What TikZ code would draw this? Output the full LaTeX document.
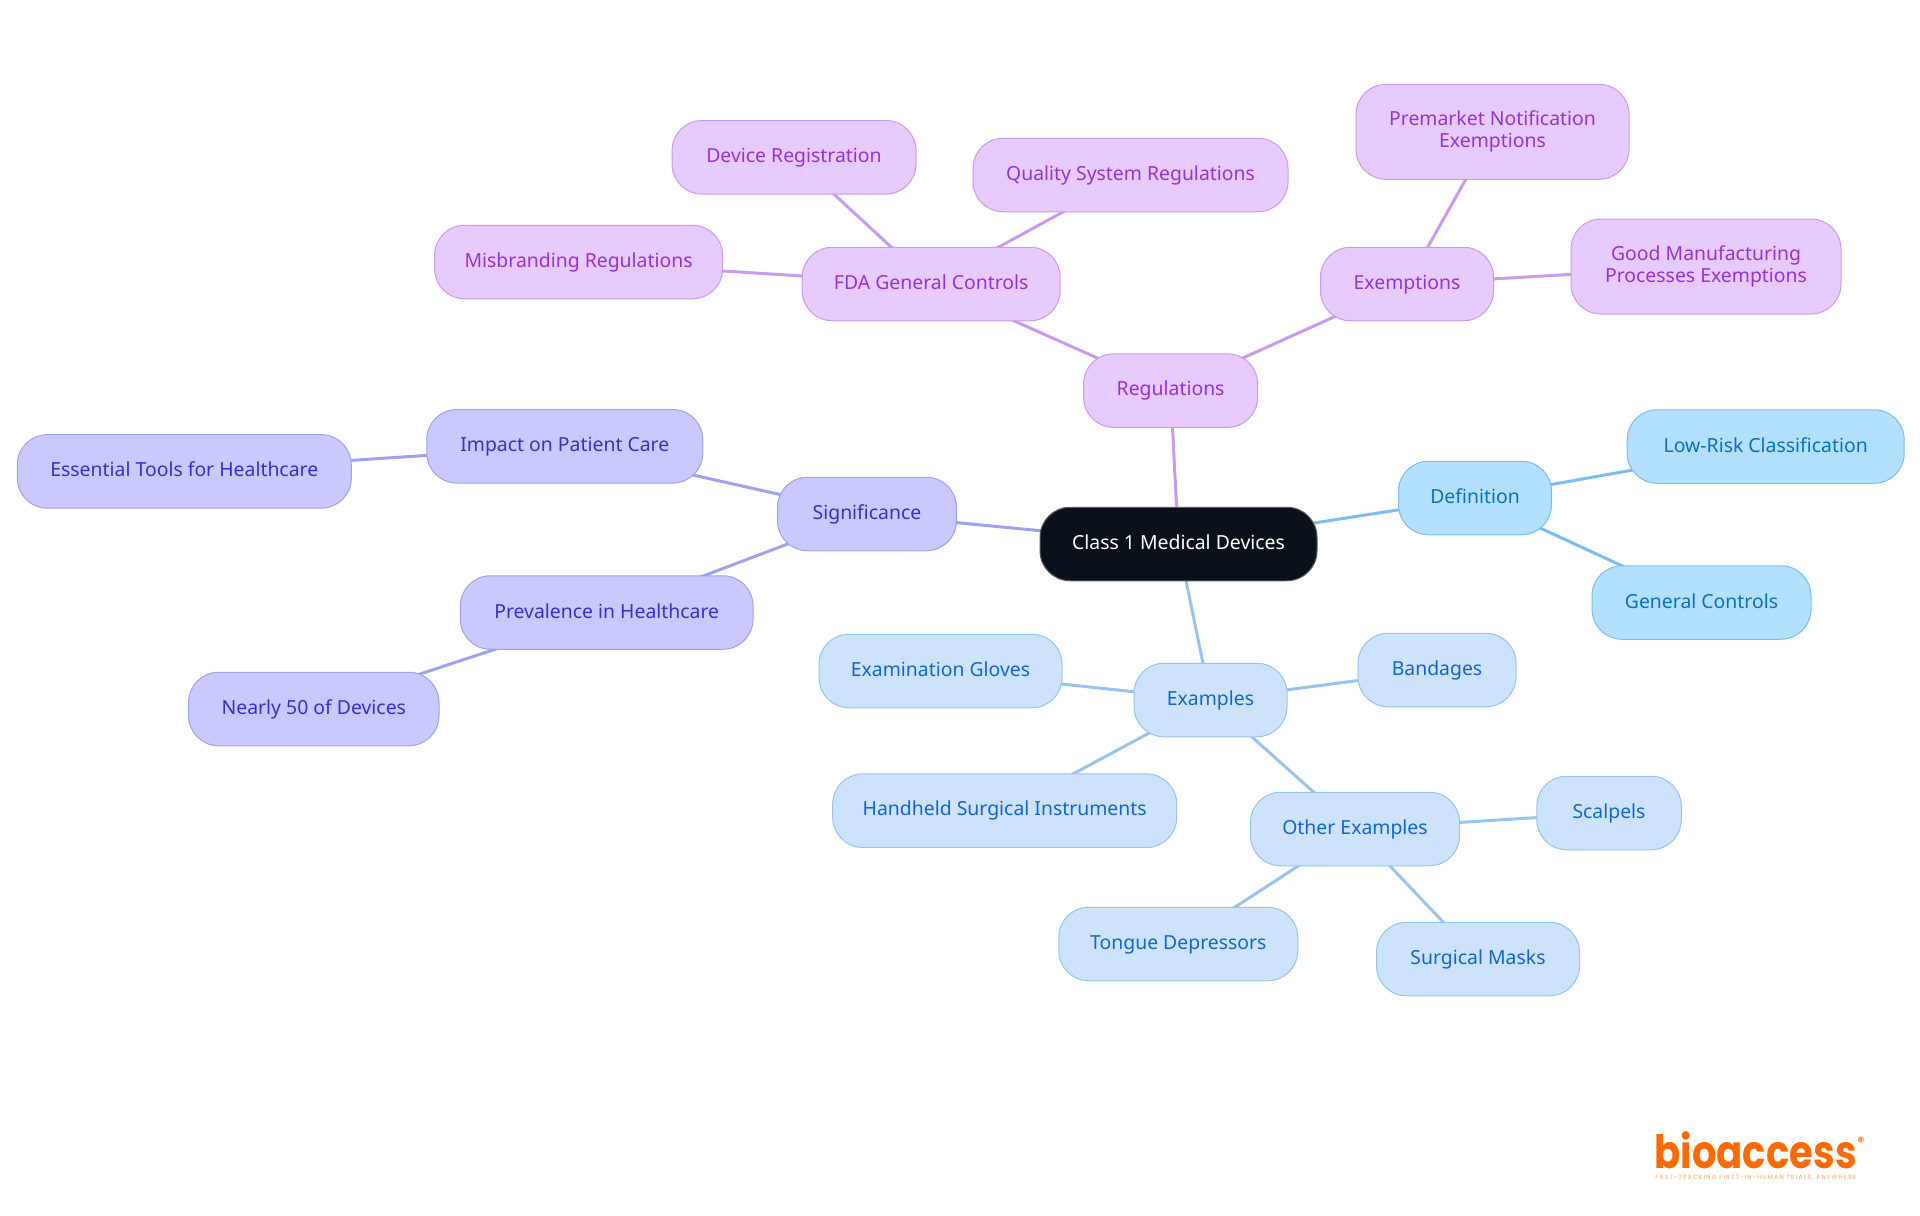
\documentclass[tikz,border=0pt]{standalone}
\usepackage{fontspec}
\setmainfont{Noto Sans}
\newfontfamily\logofont{Poppins}
\newfontfamily\tagfont[LetterSpace=20]{Poppins}
\usetikzlibrary{backgrounds}
\definecolor{rootfill}{HTML}{0B111A}
\definecolor{rootline}{HTML}{5A5E64}
\definecolor{purfill}{HTML}{E8CBFE}\definecolor{purline}{HTML}{C99BF0}\definecolor{purtext}{HTML}{9333D6}
\definecolor{skyfill}{HTML}{B3E0FF}\definecolor{skyline}{HTML}{7ABDF2}\definecolor{skytext}{HTML}{0B6FBA}
\definecolor{blufill}{HTML}{CDE3FC}\definecolor{bluline}{HTML}{99C3EF}\definecolor{blutext}{HTML}{1565C8}
\definecolor{indfill}{HTML}{C9C9FF}\definecolor{indline}{HTML}{A0A0F0}\definecolor{indtext}{HTML}{3730C8}
\definecolor{logoorange}{HTML}{FF6A00}
\newcommand{\tst}{\rule[-2pt]{0pt}{9.5pt}}
\tikzset{
  box/.style={rounded corners=15pt,line width=.5pt,inner sep=0pt,minimum height=36.75pt,align=center,
     font=\fontsize{9.7}{11}\selectfont},
  tall/.style={minimum height=47.5pt},
  rootbox/.style={box,fill=rootfill,draw=rootline,text=white},
  purbox/.style={box,fill=purfill,draw=purline,text=purtext},
  skybox/.style={box,fill=skyfill,draw=skyline,text=skytext},
  blubox/.style={box,fill=blufill,draw=bluline,text=blutext},
  indbox/.style={box,fill=indfill,draw=indline,text=indtext},
  link/.style={line width=1.5pt},
  purlink/.style={link,draw=purline},
  skylink/.style={link,draw=skyline},
  blulink/.style={link,draw=bluline},
  indlink/.style={link,draw=indline},
}
\begin{document}
\begin{tikzpicture}[x=0.5pt,y=-0.5pt]
\useasboundingbox (0,0) rectangle (1920,1215);
\node[rootbox,minimum width=138.5pt] (root) at (1178.5,544) {\tst Class 1 Medical Devices};
% Regulations
\node[purbox,minimum width=87pt] (reg) at (1170.6,390.6) {\tst Regulations};
\node[purbox,minimum width=129pt] (fda) at (931.2,284) {\tst FDA General Controls};
\node[purbox,minimum width=86.5pt] (exm) at (1407,284) {\tst Exemptions};
\node[purbox,minimum width=144pt] (mis) at (578.6,262) {\tst Misbranding Regulations};
\node[purbox,minimum width=122pt] (dev) at (794,157.3) {\tst Device Registration};
\node[purbox,minimum width=157.5pt] (qual) at (1130.5,175) {\tst Quality System Regulations};
\node[purbox,tall,minimum width=136.5pt] (pre) at (1492.5,131.8) {\tst Premarket Notification\\\tst Exemptions};
\node[purbox,tall,minimum width=135pt] (good) at (1706,266.5) {\tst Good Manufacturing\\\tst Processes Exemptions};
% Definition
\node[skybox,minimum width=76.5pt] (def) at (1475,498) {\tst Definition};
\node[skybox,minimum width=138.5pt] (low) at (1765.7,446.5) {\tst Low-Risk Classification};
\node[skybox,minimum width=109.5pt] (gen) at (1701.5,602.5) {\tst General Controls};
% Examples
\node[blubox,minimum width=76.5pt] (ex) at (1210.5,700) {\tst Examples};
\node[blubox,minimum width=79pt] (band) at (1437,670) {\tst Bandages};
\node[blubox,minimum width=121.5pt] (glov) at (940.5,671) {\tst Examination Gloves};
\node[blubox,minimum width=172pt] (hand) at (1004.7,810.7) {\tst Handheld Surgical Instruments};
\node[blubox,minimum width=104.5pt] (oth) at (1355,829) {\tst Other Examples};
\node[blubox,minimum width=72.25pt] (scal) at (1609,813) {\tst Scalpels};
\node[blubox,minimum width=119.5pt] (tong) at (1178.3,944) {\tst Tongue Depressors};
\node[blubox,minimum width=101.5pt] (mask) at (1478,959) {\tst Surgical Masks};
% Significance
\node[indbox,minimum width=89.5pt] (sig) at (867,514) {\tst Significance};
\node[indbox,minimum width=138pt] (imp) at (564.8,446.3) {\tst Impact on Patient Care};
\node[indbox,minimum width=167pt] (ess) at (184.3,471.4) {\tst Essential Tools for Healthcare};
\node[indbox,minimum width=146.3pt] (prev) at (606.7,612.5) {\tst Prevalence in Healthcare};
\node[indbox,minimum width=125.2pt] (near) at (313.8,709) {\tst Nearly 50 of Devices};
% Logo
\node[anchor=base west,inner sep=0pt,text=logoorange,font=\logofont\bfseries\fontsize{23}{24}\selectfont] (logo) at (1654,1168) {\scalebox{0.84}[1]{bioaccess}};
\node[anchor=center,inner sep=0pt,text=logoorange,font=\logofont\bfseries\fontsize{6.5}{7}\selectfont] (rmark) at (1861,1142) {®};
\node[anchor=base west,inner sep=0pt,text=logoorange!65,font=\tagfont\fontsize{3}{4}\selectfont] (tag) at (1655,1179) {FAST-TRACKING FIRST-IN-HUMAN TRIALS, ANYWHERE};
\begin{scope}[on background layer]
\draw[purlink] (root.center) -- (reg.center);
\draw[purlink] (reg.center) -- (fda.center);
\draw[purlink] (reg.center) -- (exm.center);
\draw[purlink] (fda.center) -- (mis.center);
\draw[purlink] (fda.center) -- (dev.center);
\draw[purlink] (fda.center) -- (qual.center);
\draw[purlink] (exm.center) -- (pre.center);
\draw[purlink] (exm.center) -- (good.center);
\draw[skylink] (root.center) -- (def.center);
\draw[skylink] (def.center) -- (low.center);
\draw[skylink] (def.center) -- (gen.center);
\draw[blulink] (root.center) -- (ex.center);
\draw[blulink] (ex.center) -- (band.center);
\draw[blulink] (ex.center) -- (glov.center);
\draw[blulink] (ex.center) -- (hand.center);
\draw[blulink] (ex.center) -- (oth.center);
\draw[blulink] (oth.center) -- (scal.center);
\draw[blulink] (oth.center) -- (tong.center);
\draw[blulink] (oth.center) -- (mask.center);
\draw[indlink] (root.center) -- (sig.center);
\draw[indlink] (sig.center) -- (imp.center);
\draw[indlink] (sig.center) -- (prev.center);
\draw[indlink] (imp.center) -- (ess.center);
\draw[indlink] (prev.center) -- (near.center);
\end{scope}
\end{tikzpicture}
\end{document}
